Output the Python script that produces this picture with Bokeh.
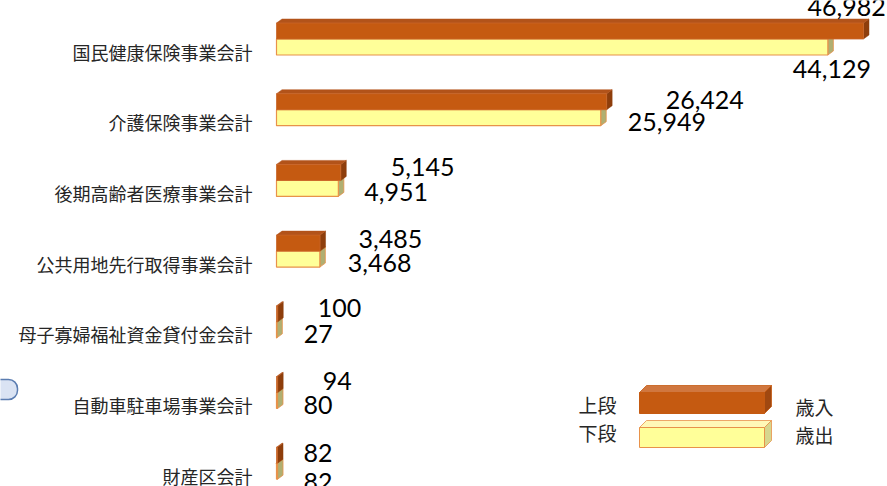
from bokeh.plotting import figure
from bokeh.models import Range1d, ColumnDataSource
from bokeh.transform import dodge
from bokeh.core.properties import value
from bokeh.embed import file_html
from bokeh.resources import INLINE

# ---------------- data ----------------
categories = ["国民健康保険事業会計", "介護保険事業会計", "後期高齢者医療事業会計",
              "公共用地先行取得事業会計", "母子寡婦福祉資金貸付金会計",
              "自動車駐車場事業会計", "財産区会計"]
revenue = [46982, 26424, 5145, 3485, 100, 94, 82]        # 歳入 (上段)
expenditure = [44129, 25949, 4951, 3468, 27, 80, 82]     # 歳出 (下段)
series_names = ["歳入", "歳出"]
tier_names = ["上段", "下段"]

# ---------------- layout (pixels) ----------------
W, H = 887, 486
PXU = 0.012494          # pixels per value unit
X0 = 276                # canvas x of value 0
CAT = 70.7              # pixels per category
Y0 = 38.5               # canvas y of first category boundary
BH_PX = 16              # bar height px
DX_PX, DY_PX = 5.5, 4   # 3D depth

# label offsets (px) relative to bar end / category boundary
up_off = [(-56, -32), (59, -10), (50, -13), (38.5, -12.6), (40, -14), (45, -12), (26, -10)]
lo_off = [(-35, 29.5), (27, 12), (26, 12), (28, 11.4), (27, 12), (26, 12), (26, 19)]

def dx(px):
    return px / PXU

def dy(px):
    return px / CAT

def cx(c):
    return (c - X0) / PXU

def cy(c):
    return (c - Y0) / CAT

p = figure(width=W, height=H, output_backend="svg", toolbar_location=None,
           x_range=Range1d(cx(0), cx(W)), y_range=Range1d(cy(H), cy(0)),
           min_border=0)
p.axis.visible = False
p.grid.visible = False
p.outline_line_color = None
p.background_fill_color = "white"
p.border_fill_color = "white"

n = len(categories)
idx = list(range(n))
BH = dy(BH_PX)
DX, DY = dx(DX_PX), dy(DY_PX)

src = ColumnDataSource(dict(idx=idx, cat=categories, rev=revenue, exp=expenditure))

# faces
y_top_xs, y_top_ys, y_side_xs, y_side_ys = [], [], [], []
o_top_xs, o_top_ys, o_side_xs, o_side_ys = [], [], [], []
for i, v, w in zip(idx, revenue, expenditure):
    y_top_xs.append([0, DX, w + DX, w]); y_top_ys.append([i, i - DY, i - DY, i])
    y_side_xs.append([w, w + DX, w + DX, w]); y_side_ys.append([i, i - DY, i + BH - DY, i + BH])
    t = i - BH
    o_top_xs.append([0, DX, v + DX, v]); o_top_ys.append([t, t - DY, t - DY, t])
    o_side_xs.append([v, v + DX, v + DX, v]); o_side_ys.append([t, t - DY, i - DY, i])

p.patches(y_top_xs, y_top_ys, fill_color="#FFF8B0", line_color="#E8924A", line_width=0.8)
p.patches(y_side_xs, y_side_ys, fill_color="#AFAF72", line_color="#E8924A", line_width=0.8)
p.patches(o_side_xs, o_side_ys, fill_color="#8E3E0C", line_color="#8E3E0C", line_width=0.5)
p.patches(o_top_xs, o_top_ys, fill_color="#B2531A", line_color="#B2531A", line_width=0.5)

p.hbar(y=dodge("idx", BH / 2, range=p.y_range), height=BH, left=0, right="exp", source=src,
       fill_color="#FFFF99", line_color="#E8924A", line_width=1.2)
p.hbar(y=dodge("idx", -BH / 2, range=p.y_range), height=BH, left=0, right="rev", source=src,
       fill_color="#C55A11", line_color="#C9662A", line_width=0.8)

# category labels
p.text(x=0, y=dodge("idx", dy(12.5), range=p.y_range), text="cat", source=src,
       x_offset=-24, text_align="right", text_baseline="middle",
       text_font=value("Noto Sans CJK JP"), text_font_size="18px", text_color="#262626")

# value labels
lab_x, lab_y, lab_t = [], [], []
for i, v, w in zip(idx, revenue, expenditure):
    lab_x.append(v + dx(up_off[i][0])); lab_y.append(i + dy(up_off[i][1])); lab_t.append(f"{v:,}")
    lab_x.append(w + dx(lo_off[i][0])); lab_y.append(i + dy(lo_off[i][1])); lab_t.append(f"{w:,}")
p.text(x=lab_x, y=lab_y, text=lab_t, text_align="left", text_baseline="middle",
       text_font=value("Lato"), text_font_size="25px", text_color="#000000")

# legend (3D boxes)
LD = 7
for (top_px, bot_px), front, topc, sidec, line in [
        ((392, 413), "#C55A11", "#D0773F", "#A04810", "#C55A11"),
        ((427, 447), "#FFFF99", "#FFF8B8", "#D6D68E", "#E8924A")]:
    l, r = cx(639), cx(764)
    t, b = cy(top_px), cy(bot_px)
    p.patch([l, l + dx(LD), r + dx(LD), r], [t, t - dy(LD), t - dy(LD), t],
            fill_color=topc, line_color=line, line_width=0.8)
    p.patch([r, r + dx(LD), r + dx(LD), r], [t, t - dy(LD), b - dy(LD), b],
            fill_color=sidec, line_color=line, line_width=0.8)
    p.quad(left=l, right=r, top=t, bottom=b, fill_color=front, line_color=line, line_width=1)

p.text(x=[cx(578), cx(578)], y=[cy(404), cy(432)], text=tier_names, text_align="left",
       text_baseline="middle", text_font=value("Noto Sans CJK JP"), text_font_size="19px",
       text_color="#262626")
p.text(x=[cx(795), cx(795)], y=[cy(406), cy(434)], text=series_names, text_align="left",
       text_baseline="middle", text_font=value("Noto Sans CJK JP"), text_font_size="19px",
       text_color="#262626")

# partial rounded shape at left edge
try:
    p.quad(left=cx(-30), right=cx(17), top=cy(379), bottom=cy(399), fill_color="#DAE3F3",
           line_color="#5B7DB1", line_width=1.5, border_radius=9)
except Exception:
    p.quad(left=cx(-30), right=cx(17), top=cy(379), bottom=cy(399), fill_color="#DAE3F3",
           line_color="#5B7DB1", line_width=1.5)

open("out.html", "w").write(file_html(p, INLINE))
